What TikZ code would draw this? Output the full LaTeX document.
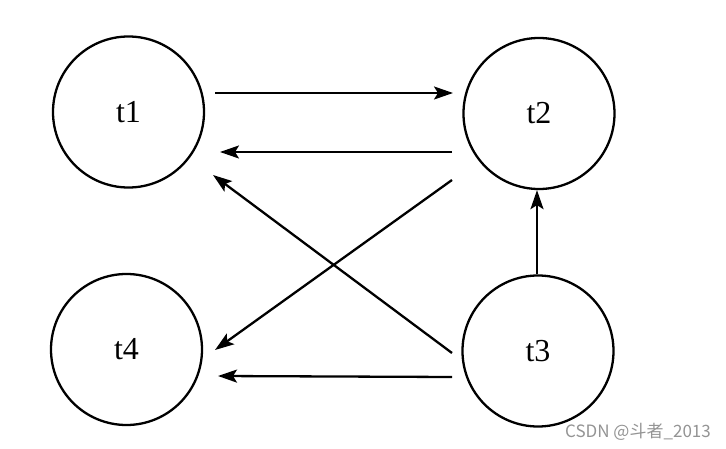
\documentclass[tikz,border=0pt]{standalone}
\usepackage{fontspec}
\setmainfont{Liberation Serif}
\newfontfamily\cjk{Noto Sans CJK SC}
\usetikzlibrary{arrows.meta,calc}
\begin{document}
\begin{tikzpicture}[x=1pt,y=-1pt,
  state/.style={circle,draw,line width=2.3pt,minimum size=151pt,inner sep=0pt,font=\fontsize{32}{34}\selectfont},
  arr/.style={line width=2.3pt,-{Stealth[length=19pt,width=13pt,inset=4pt]}}]
\fill[white] (0,0) rectangle (726,449);
\useasboundingbox (0,0) rectangle (726,449);
\node[state] (t1) at (128.5,112) {t1};
\node[state] (t2) at (539,113.5) {t2};
\node[state] (t4) at (126.5,349.5) {t4};
\node[state] (t3) at (538,351) {t3};
\draw[arr] ($(t1.center)+(86.5,-19)$) -- ($(t2.center)+(-86,-20.5)$);
\draw[arr] ($(t2.center)+(-87,38.5)$) -- ($(t1.center)+(91.5,40)$);
\draw[arr] ($(t2.center)+(-87,66.5)$) -- ($(t4.center)+(88.5,0.5)$);
\draw[arr] ($(t3.center)+(-86,2)$) -- ($(t1.center)+(84.5,63)$);
\draw[arr] ($(t3.north)+(-1,0)$) -- ($(t2.south)+(-2,0)$);
\draw[arr] ($(t3.center)+(-86,26)$) -- ($(t4.center)+(91.5,26.5)$);
\node[anchor=east,text=black!42,inner sep=0pt,font=\cjk\fontsize{17}{18}\selectfont] (wm) at (711,432) {CSDN @斗者\_2013};
\end{tikzpicture}
\end{document}
